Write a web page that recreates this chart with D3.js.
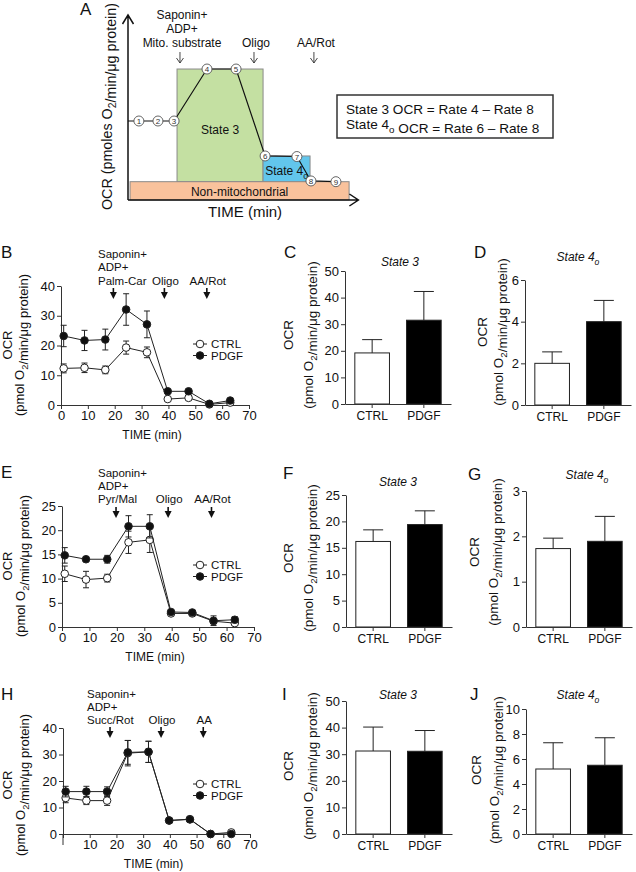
<!DOCTYPE html>
<html>
<head>
<meta charset="utf-8">
<script src="https://cdn.jsdelivr.net/npm/d3@7"></script>
<style>
  body { margin: 0; background: #fff; }
  svg { display: block; }
</style>
</head>
<body>
<div id="figure"></div>
<script>
"use strict";

// ---------- Panel A (schematic) ----------
const aTimes = [4.8, 13.2, 20.3, 34.8, 47.6, 60.4, 74.4, 80.6, 91.6];
const aRates = [42.7, 42.7, 42.7, 70.8, 70.8, 23.8, 23.5, 10.3, 9.9];
const aRegionNames = ["State 3", "State 4", "Non-mitochondrial"];
const aRegionStart = [21.6, 59.5, 0.9];
const aRegionEnd = [59.5, 80.2, 97.4];
const aRegionLow = [9.9, 9.9, 0];
const aRegionHigh = [70.8, 23.8, 9.9];
const aInjectTimes = [22.9, 55.5, 81.9];
const aInjectLabels = [["Saponin+", "ADP+", "Mito. substrate"], ["Oligo"], ["AA/Rot"]];

// ---------- Time courses (B, E, H) ----------
const timePoints = [1, 8.75, 16.5, 24.25, 32, 39.75, 47.5, 55.25, 63];
const timeTicks = [0, 10, 20, 30, 40, 50, 60, 70];

const bCtrl = [12.3, 12.5, 11.8, 19.3, 17.7, 2.0, 2.4, 0.2, 0.8];
const bCtrlErr = [1.5, 1.6, 1.3, 2.2, 1.8, 0.4, 0.4, 0.3, 0.3];
const bPdgf = [23.2, 21.7, 22.0, 32.1, 27.1, 4.6, 4.6, 0.4, 1.5];
const bPdgfErr = [3.6, 3.4, 3.5, 5.3, 4.5, 0.5, 0.5, 0.3, 0.3];
const bInjectTimes = [19.5, 38.5, 54.3];
const bLabels = [["Saponin+", "ADP+", "Palm-Car"], ["Oligo"], ["AA/Rot"]];

const eCtrl = [11.0, 9.8, 10.1, 17.5, 18.0, 2.8, 2.8, 1.2, 0.8];
const eCtrlErr = [1.6, 1.7, 0.8, 2.3, 2.6, 0.4, 0.4, 0.5, 0.4];
const ePdgf = [14.8, 14.0, 14.0, 20.8, 20.8, 3.1, 3.0, 1.3, 1.5];
const ePdgfErr = [1.6, 0.5, 0.8, 2.2, 2.4, 0.4, 0.3, 1.0, 0.6];
const eInjectTimes = [19.7, 38.7, 54.5];
const eLabels = [["Saponin+", "ADP+", "Pyr/Mal"], ["Oligo"], ["AA/Rot"]];

const hCtrl = [13.6, 12.6, 12.6, 30.5, 31.0, 5.1, 5.6, 0.0, 0.6];
const hCtrlErr = [1.8, 1.5, 1.8, 4.8, 4.0, 0.3, 0.4, 0.3, 0.3];
const hPdgf = [16.0, 16.0, 16.0, 30.8, 31.0, 5.1, 5.5, 0.0, 0.0];
const hPdgfErr = [2.0, 2.0, 1.8, 4.5, 4.0, 0.3, 0.4, 0.3, 0.3];
const hInjectTimes = [17.6, 36.7, 52.5];
const hLabels = [["Saponin+", "ADP+", "Succ/Rot"], ["Oligo"], ["AA"]];

// ---------- Bar charts (C, D, F, G, I, J) ----------
const groups = ["CTRL", "PDGF"];
const cValues = [19.2, 31.5];
const cErrors = [5.0, 10.8];
const dValues = [2.0, 4.0];
const dErrors = [0.55, 1.02];
const fValues = [16.2, 19.4];
const fErrors = [2.2, 2.6];
const gValues = [1.73, 1.89];
const gErrors = [0.23, 0.55];
const iValues = [31.2, 31.1];
const iErrors = [9.0, 7.8];
const jValues = [5.2, 5.5];
const jErrors = [2.1, 2.2];

const font = '"Liberation Sans", Arial, Helvetica, sans-serif';
const ink = "#111";
const axisInk = "#333";

const svg = d3.select("#figure").append("svg")
  .attr("width", 636).attr("height", 872)
  .style("font-family", font)
  .style("background", "#fff");

// text with optional subscripts: parts are strings or {sub: "..."}
const richText = (sel, parts, size) => {
  parts.forEach((p) => {
    if (typeof p === "string") {
      sel.append("tspan").text(p);
    } else {
      sel.append("tspan").attr("dy", size * 0.3).attr("font-size", size * 0.72).text(p.sub);
      sel.append("tspan").attr("dy", -size * 0.3).text("");
    }
  });
  return sel;
};

const ocrUnits = ["(pmol O", { sub: "2" }, "/min/\u03bcg protein)"];

const panelLetter = (letter, x, y) => {
  svg.append("text").attr("x", x).attr("y", y)
    .attr("font-size", 17).attr("fill", ink).text(letter);
};

const yLabel = (x1, x2, cy, size) => {
  svg.append("text")
    .attr("transform", `translate(${x1},${cy}) rotate(-90)`)
    .attr("text-anchor", "middle").attr("font-size", size).attr("fill", ink)
    .text("OCR");
  const t = svg.append("text")
    .attr("transform", `translate(${x2},${cy}) rotate(-90)`)
    .attr("text-anchor", "middle").attr("font-size", size).attr("fill", ink);
  richText(t, ocrUnits, size);
};

const styleAxis = (g, size) => {
  g.attr("font-family", font).attr("font-size", size);
  g.selectAll("path, line").attr("stroke", axisInk);
  g.selectAll("text").attr("fill", ink);
};

// ---------- Panel A ----------
const drawSchematic = () => {
  const x = d3.scaleLinear().domain([0, 100]).range([128, 355]);
  const y = d3.scaleLinear().domain([0, 100]).range([200, 15]);
  const fills = { "State 3": "#c4e0a2", "State 4": "#62c6ec", "Non-mitochondrial": "#f9c29c" };

  const g = svg.append("g");

  aRegionNames.forEach((name, i) => {
    g.append("rect")
      .attr("x", x(aRegionStart[i]))
      .attr("y", y(aRegionHigh[i]))
      .attr("width", x(aRegionEnd[i]) - x(aRegionStart[i]))
      .attr("height", y(aRegionLow[i]) - y(aRegionHigh[i]))
      .attr("fill", fills[name])
      .attr("stroke", "#8a8a8a").attr("stroke-width", 1);
  });

  g.append("text").attr("x", (x(aRegionStart[0]) + x(aRegionEnd[0])) / 2).attr("y", 134)
    .attr("text-anchor", "middle").attr("font-size", 12).attr("fill", ink).text("State 3");
  const s4 = g.append("text").attr("x", (x(aRegionStart[1]) + x(aRegionEnd[1])) / 2).attr("y", 175)
    .attr("text-anchor", "middle").attr("font-size", 12).attr("fill", ink);
  richText(s4, ["State 4", { sub: "o" }], 12);
  g.append("text").attr("x", (x(aRegionStart[2]) + x(aRegionEnd[2])) / 2).attr("y", 196)
    .attr("text-anchor", "middle").attr("font-size", 12).attr("fill", ink).text("Non-mitochondrial");

  // rate trace
  const pts = [[0, aRates[0]]].concat(aTimes.map((t, i) => [t, aRates[i]]));
  g.append("path")
    .attr("d", d3.line().x((d) => x(d[0])).y((d) => y(d[1]))(pts))
    .attr("fill", "none").attr("stroke", ink).attr("stroke-width", 1.2);

  const marks = g.selectAll(".num").data(aTimes).enter().append("g")
    .attr("transform", (d, i) => `translate(${x(d)},${y(aRates[i])})`);
  marks.append("circle").attr("r", 5).attr("fill", "#fff").attr("stroke", "#555").attr("stroke-width", 0.9);
  marks.append("text").attr("text-anchor", "middle").attr("y", 3)
    .attr("font-size", 8).attr("fill", "#333").text((d, i) => i + 1);

  // axes with open arrow heads
  g.append("path")
    .attr("d", `M${x(0)},${y(0)}V${y(100)}M${x(0) - 5.5},${y(100) + 9}L${x(0)},${y(100)}L${x(0) + 5.5},${y(100) + 9}`)
    .attr("fill", "none").attr("stroke", ink).attr("stroke-width", 1.5);
  g.append("path")
    .attr("d", `M${x(0)},${y(0)}H${x(101.5)}M${x(101.5) - 9},${y(0) - 6}L${x(101.5)},${y(0)}L${x(101.5) - 9},${y(0) + 6}`)
    .attr("fill", "none").attr("stroke", ink).attr("stroke-width", 1.5);

  // injections
  aInjectTimes.forEach((t, i) => {
    const cx = x(t);
    g.append("path")
      .attr("d", `M${cx},52V63M${cx - 3.5},58L${cx},63L${cx + 3.5},58`)
      .attr("fill", "none").attr("stroke", "#333").attr("stroke-width", 0.9);
    const lines = aInjectLabels[i];
    lines.forEach((l, j) => {
      g.append("text").attr("x", cx + 2).attr("y", 47 - (lines.length - 1 - j) * 14)
        .attr("text-anchor", "middle").attr("font-size", 12).attr("fill", ink).text(l);
    });
  });

  const yl = g.append("text")
    .attr("transform", `translate(112,${(y(0) + y(100)) / 2 - 1}) rotate(-90)`)
    .attr("text-anchor", "middle").attr("font-size", 14.3).attr("fill", ink);
  richText(yl, ["OCR (pmoles O", { sub: "2" }, "/min/\u03bcg protein)"], 14.3);

  g.append("text").attr("x", 245).attr("y", 217).attr("text-anchor", "middle")
    .attr("font-size", 15).attr("fill", ink).text("TIME (min)");

  // formula box
  g.append("rect").attr("x", 337).attr("y", 95).attr("width", 216).attr("height", 43)
    .attr("fill", "#fff").attr("stroke", "#333").attr("stroke-width", 1.5);
  g.append("text").attr("x", 346).attr("y", 113.5).attr("font-size", 13.6).attr("fill", ink)
    .text("State 3 OCR = Rate 4 \u2013 Rate 8");
  const l2 = g.append("text").attr("x", 346).attr("y", 129).attr("font-size", 13.6).attr("fill", ink);
  richText(l2, ["State 4", { sub: "o" }, " OCR = Rate 6 \u2013 Rate 8"], 13.6);

  panelLetter("A", 80, 15);
};

// ---------- Time-course panels ----------
const drawTimeCourse = (o) => {
  const g = svg.append("g");
  const x = d3.scaleLinear().domain([0, 70]).range(o.xRange);
  const y = d3.scaleLinear().domain([0, o.yMax]).range(o.yRange);

  const xAxis = g.append("g").attr("transform", `translate(0,${o.yRange[0]})`)
    .call(d3.axisBottom(x).tickValues(timeTicks).tickSize(4).tickSizeOuter(0).tickPadding(2)
      .tickFormat((d) => (o.hideZero && d === 0 ? "" : d)));
  styleAxis(xAxis, 13);
  if (o.hideZero) {
    g.append("line").attr("x1", x(0)).attr("x2", x(0))
      .attr("y1", o.yRange[0]).attr("y2", o.yRange[0] + 11).attr("stroke", axisInk);
  }
  const yAxis = g.append("g").attr("transform", `translate(${o.xRange[0]},0)`)
    .call(d3.axisLeft(y).tickValues(d3.range(0, o.yMax + 0.1, o.yStep)).tickSize(4).tickSizeOuter(0).tickPadding(2)
      .tickFormat((d) => d));
  styleAxis(yAxis, 13);

  g.append("text").attr("x", (o.xRange[0] + o.xRange[1]) / 2 - 3).attr("y", o.yRange[0] + 34)
    .attr("text-anchor", "middle").attr("font-size", 12).attr("fill", ink).text("TIME (min)");

  const series = [
    { vals: o.ctrl, errs: o.ctrlErr, fill: "#fff" },
    { vals: o.pdgf, errs: o.pdgfErr, fill: ink },
  ];
  series.forEach((s) => {
    g.append("path")
      .attr("d", d3.line().x((d, i) => x(timePoints[i])).y((d) => y(d))(s.vals))
      .attr("fill", "none").attr("stroke", "#222").attr("stroke-width", 1);
    const eb = g.append("g").attr("stroke", "#222").attr("stroke-width", 1);
    s.vals.forEach((v, i) => {
      const cx = x(timePoints[i]);
      const lo = y(Math.max(0, v - s.errs[i]));
      const hi = y(v + s.errs[i]);
      eb.append("path").attr("d", `M${cx},${lo}V${hi}M${cx - 3},${hi}H${cx + 3}M${cx - 3},${lo}H${cx + 3}`);
    });
    g.selectAll(null).data(s.vals).enter().append("circle")
      .attr("cx", (d, i) => x(timePoints[i])).attr("cy", (d) => y(d))
      .attr("r", 3.8).attr("fill", s.fill).attr("stroke", "#222").attr("stroke-width", 1);
  });

  // injections
  o.injectTimes.forEach((t, i) => {
    const cx = x(t);
    g.append("path")
      .attr("d", `M${cx},${o.arrowTop}V${o.arrowTop + 6}`)
      .attr("stroke", ink).attr("stroke-width", 1.6);
    g.append("path")
      .attr("d", `M${cx - 3.5},${o.arrowTop + 4}L${cx + 3.5},${o.arrowTop + 4}L${cx},${o.arrowTop + 11}Z`)
      .attr("fill", ink);
    const lines = o.labels[i];
    if (i === 0) {
      lines.forEach((l, j) => {
        g.append("text").attr("x", o.labelLeft).attr("y", o.labelBase[j])
          .attr("font-size", 11.5).attr("fill", ink).text(l);
      });
    } else {
      g.append("text").attr("x", cx + 1).attr("y", o.labelBase[2])
        .attr("text-anchor", "middle").attr("font-size", 11.5).attr("fill", ink).text(lines[0]);
    }
  });

  // legend
  [["CTRL", "#fff"], ["PDGF", ink]].forEach(([name, fill], i) => {
    const ly = o.legendY + i * 11.5;
    g.append("line").attr("x1", 193).attr("x2", 207).attr("y1", ly).attr("y2", ly)
      .attr("stroke", "#222");
    g.append("circle").attr("cx", 200).attr("cy", ly).attr("r", 3.8)
      .attr("fill", fill).attr("stroke", "#222");
    g.append("text").attr("x", 211).attr("y", ly + 4).attr("font-size", 11.5)
      .attr("fill", ink).text(name);
  });

  yLabel(o.labelX[0], o.labelX[1], o.labelY, 13);
  panelLetter(o.letter, 1, o.letterY);
};

// ---------- Bar panels ----------
const drawBars = (o) => {
  const g = svg.append("g");
  const x = d3.scaleBand().domain(groups).range([o.axisX, o.axisX + 106])
    .paddingInner(0.33).paddingOuter(0.19);
  const y = d3.scaleLinear().domain([0, o.yMax]).range(o.yRange);

  g.selectAll(null).data(o.values).enter().append("rect")
    .attr("x", (d, i) => x(groups[i]))
    .attr("y", (d) => y(d))
    .attr("width", x.bandwidth())
    .attr("height", (d) => y(0) - y(d))
    .attr("fill", (d, i) => (i === 0 ? "#fff" : "#000"))
    .attr("stroke", "#222").attr("stroke-width", 1);

  o.values.forEach((v, i) => {
    const cx = x(groups[i]) + x.bandwidth() / 2;
    g.append("path")
      .attr("d", `M${cx},${y(v)}V${y(v + o.errors[i])}M${cx - 10},${y(v + o.errors[i])}H${cx + 10}`)
      .attr("stroke", "#222").attr("fill", "none").attr("stroke-width", 1);
  });

  const xAxis = g.append("g").attr("transform", `translate(0,${o.yRange[0]})`)
    .call(d3.axisBottom(x).tickSize(4).tickSizeOuter(0).tickPadding(3));
  styleAxis(xAxis, 12);
  const yAxis = g.append("g").attr("transform", `translate(${o.axisX},0)`)
    .call(d3.axisLeft(y).tickValues(d3.range(0, o.yMax + 0.01, o.yStep)).tickSize(4).tickSizeOuter(0).tickPadding(2)
      .tickFormat((d) => d));
  styleAxis(yAxis, 13);

  const t = g.append("text").attr("x", o.titleX).attr("y", o.titleY)
    .attr("text-anchor", "middle").attr("font-size", 12).attr("font-style", "italic").attr("fill", ink);
  if (o.state4) richText(t, ["State 4", { sub: "o" }], 12);
  else t.text("State 3");

  yLabel(o.labelX[0], o.labelX[1], o.labelY, 13.5);
  panelLetter(o.letter, o.letterX, o.letterY);
};

drawSchematic();

drawTimeCourse({
  letter: "B", letterY: 258,
  ctrl: bCtrl, ctrlErr: bCtrlErr, pdgf: bPdgf, pdgfErr: bPdgfErr,
  xRange: [61, 249], yRange: [405, 286], yMax: 40, yStep: 10,
  injectTimes: bInjectTimes, labels: bLabels, labelLeft: 98, labelBase: [258, 271, 285],
  arrowTop: 288, legendY: 344, labelX: [12, 24], labelY: 345,
});
drawTimeCourse({
  letter: "E", letterY: 478,
  ctrl: eCtrl, ctrlErr: eCtrlErr, pdgf: ePdgf, pdgfErr: ePdgfErr,
  xRange: [62, 254], yRange: [627, 506], yMax: 25, yStep: 5,
  injectTimes: eInjectTimes, labels: eLabels, labelLeft: 98, labelBase: [476.5, 489.5, 502.5],
  arrowTop: 507, legendY: 565, labelX: [12, 25], labelY: 566,
});
drawTimeCourse({
  letter: "H", letterY: 700, hideZero: true,
  ctrl: hCtrl, ctrlErr: hCtrlErr, pdgf: hPdgf, pdgfErr: hPdgfErr,
  xRange: [63, 250], yRange: [834, 728], yMax: 40, yStep: 10,
  injectTimes: hInjectTimes, labels: hLabels, labelLeft: 87, labelBase: [697.5, 710.5, 723.5],
  arrowTop: 727, legendY: 784, labelX: [12, 25], labelY: 785,
});

drawBars({ letter: "C", letterX: 284, letterY: 258, values: cValues, errors: cErrors,
  axisX: 345, yRange: [404, 271], yMax: 50, yStep: 10, titleX: 400, titleY: 266,
  labelX: [293, 313], labelY: 335 });
drawBars({ letter: "D", letterX: 474, letterY: 258, values: dValues, errors: dErrors, state4: true,
  axisX: 525, yRange: [405, 280], yMax: 6, yStep: 2, titleX: 578, titleY: 261,
  labelX: [487, 503], labelY: 332 });
drawBars({ letter: "F", letterX: 283, letterY: 479, values: fValues, errors: fErrors,
  axisX: 346, yRange: [627, 495], yMax: 25, yStep: 5, titleX: 398, titleY: 486,
  labelX: [293, 313], labelY: 558 });
drawBars({ letter: "G", letterX: 468, letterY: 480, values: gValues, errors: gErrors, state4: true,
  axisX: 526, yRange: [627, 491], yMax: 3, yStep: 1, titleX: 587, titleY: 479,
  labelX: [479, 498], labelY: 552 });
drawBars({ letter: "I", letterX: 282, letterY: 700, values: iValues, errors: iErrors,
  axisX: 346, yRange: [834, 701], yMax: 50, yStep: 10, titleX: 398, titleY: 699,
  labelX: [293, 313], labelY: 766 });
drawBars({ letter: "J", letterX: 470, letterY: 700, values: jValues, errors: jErrors, state4: true,
  axisX: 526, yRange: [834, 709], yMax: 10, yStep: 2, titleX: 578, titleY: 699,
  labelX: [481, 499], labelY: 770 });
</script>
</body>
</html>
